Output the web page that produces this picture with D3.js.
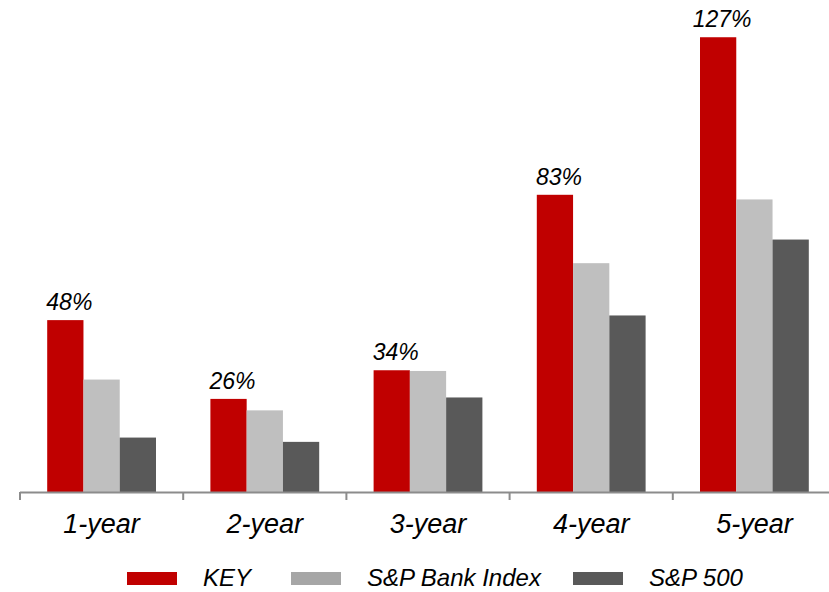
<!DOCTYPE html>
<html>
<head>
<meta charset="utf-8">
<script src="https://cdn.jsdelivr.net/npm/d3@7"></script>
<style>
  body { margin: 0; background: #fff; }
  text { font-family: "Liberation Sans", Arial, sans-serif; font-style: italic; fill: #000; }
</style>
</head>
<body>
<div id="mainChart"></div>
<script>
const categories = ["1-year", "2-year", "3-year", "4-year", "5-year"];
const seriesNames = ["KEY", "S&P Bank Index", "S&P 500"];
const keyValues = [48, 26, 34, 83, 127];
const bankValues = [31.4, 22.8, 33.8, 63.9, 81.7];
const spValues = [15.2, 14.0, 26.4, 49.3, 70.5];
const keyLabels = ["48%", "26%", "34%", "83%", "127%"];

const COLORS = ["#c00000", "#bfbfbf", "#595959"];
const LEGEND_COLORS = ["#c00000", "#a6a6a6", "#595959"];

const WIDTH = 829, HEIGHT = 592;
const BASE = 492;
const AXIS_LEFT = 20, AXIS_RIGHT = 836;

const svg = d3.select("#mainChart")
  .append("svg")
  .attr("width", WIDTH)
  .attr("height", HEIGHT);

const x = d3.scaleBand()
  .domain(categories)
  .range([AXIS_LEFT, AXIS_RIGHT])
  .padding(0);

const x1 = d3.scaleBand()
  .domain(seriesNames)
  .range([27.2, x.bandwidth() - 27.2])
  .padding(0);

const y = d3.scaleLinear()
  .domain([0, 137.4])
  .range([BASE, 0]);

const allValues = [keyValues, bankValues, spValues];

// bars
seriesNames.forEach((s, si) => {
  svg.append("g")
    .selectAll("rect")
    .data(categories)
    .enter()
    .append("rect")
    .attr("x", (c) => x(c) + x1(s))
    .attr("y", (c, i) => y(allValues[si][i]))
    .attr("width", x1.bandwidth())
    .attr("height", (c, i) => BASE - y(allValues[si][i]))
    .attr("fill", COLORS[si]);
});

// labels over KEY bars
svg.append("g")
  .selectAll("text")
  .data(categories)
  .enter()
  .append("text")
  .attr("x", (c) => x(c) + x1("KEY") + x1.bandwidth() / 2 + 4)
  .attr("y", (c, i) => y(keyValues[i]) - 10)
  .attr("text-anchor", "middle")
  .style("font-size", "23px")
  .text((c, i) => keyLabels[i]);

// axis
const axisG = svg.append("g");
axisG.append("line")
  .attr("x1", AXIS_LEFT)
  .attr("x2", WIDTH)
  .attr("y1", BASE + 0.5)
  .attr("y2", BASE + 0.5)
  .attr("stroke", "#8c8c8c")
  .attr("stroke-width", 2);

axisG.selectAll(".sep")
  .data(categories)
  .enter()
  .append("line")
  .attr("class", "sep")
  .attr("x1", (c) => x(c))
  .attr("x2", (c) => x(c))
  .attr("y1", BASE)
  .attr("y2", BASE + 8)
  .attr("stroke", "#8c8c8c")
  .attr("stroke-width", 2);

axisG.selectAll(".cat")
  .data(categories)
  .enter()
  .append("text")
  .attr("class", "cat")
  .attr("x", (c) => x(c) + x.bandwidth() / 2)
  .attr("y", 533)
  .attr("text-anchor", "middle")
  .style("font-size", "27px")
  .text((c) => c);

// legend
const legendX = [127, 291, 573];
const legend = svg.append("g");
seriesNames.forEach((s, i) => {
  legend.append("rect")
    .attr("x", legendX[i])
    .attr("y", 572)
    .attr("width", 50)
    .attr("height", 13)
    .attr("fill", LEGEND_COLORS[i]);
  legend.append("text")
    .attr("x", legendX[i] + 76)
    .attr("y", 586)
    .style("font-size", "24px")
    .text(s);
});
</script>
</body>
</html>
